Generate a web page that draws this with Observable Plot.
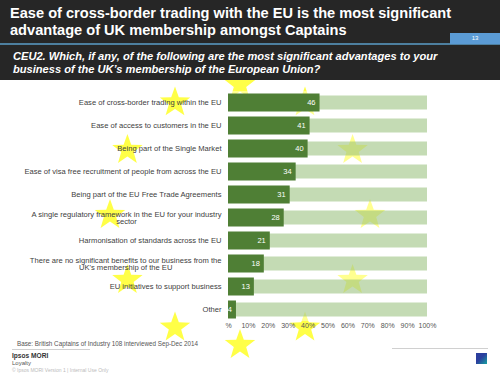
<!DOCTYPE html>
<html>
<head>
<meta charset="utf-8">
<script src="https://cdn.jsdelivr.net/npm/d3@7"></script>
<script src="https://cdn.jsdelivr.net/npm/@observablehq/plot@0.6"></script>
<style>
  html, body { margin: 0; padding: 0; background: #fff; }
  #page { position: relative; width: 500px; height: 375px; overflow: hidden; font-family: "Liberation Sans", Arial, sans-serif; background: #fff; }
  #stars { position: absolute; left: 0; top: 0; z-index: 0; }
  #header { position: absolute; left: 0; top: 0; width: 500px; height: 80px; background: #262626; z-index: 1; }
  #title { position: absolute; left: 10px; top: 5px; color: #fff; font-weight: bold; font-size: 14.6px; line-height: 17px; white-space: nowrap; }
  #rule { position: absolute; left: 0; top: 43px; width: 500px; height: 2px; background: #4d7f9f; }
  #pagebox { position: absolute; left: 450px; top: 33px; width: 50px; height: 11px; background: #5b9bd5; color: #fff; font-size: 6px; line-height: 11px; text-align: center; }
  #subtitle { position: absolute; left: 13px; top: 50px; color: #fff; font-weight: bold; font-style: italic; font-size: 11.1px; line-height: 13px; white-space: nowrap; }
  #chart { position: absolute; left: 0; top: 80px; z-index: 2; }
  .foot { position: absolute; white-space: nowrap; z-index: 3; }
</style>
</head>
<body>
<div id="page">
  <svg id="stars" width="500" height="375"></svg>
  <div id="header">
    <div id="title"></div>
    <div id="rule"></div>
    <div id="pagebox"></div>
    <div id="subtitle"></div>
  </div>
  <div id="chart"></div>
  <div class="foot" id="base" style="left:17px; top:339.5px; font-size:6.3px; color:#555;"></div>
  <div class="foot" style="left:12px; top:348.5px; width:78px; height:1px; background:#d0d0d0;"></div>
  <div class="foot" id="brand" style="left:12px; top:351.5px; font-size:6.6px; font-weight:bold; color:#333;"></div>
  <div class="foot" id="sub1" style="left:12px; top:359.5px; font-size:6px; color:#555;"></div>
  <div class="foot" id="sub2" style="left:12px; top:366.5px; font-size:5px; color:#bbb;"></div>
  <div class="foot" style="left:392px; top:348px; width:96px; height:1px; background:#d0d0d0;"></div>
  <div class="foot" style="left:476px; top:353px; width:11px; height:11px; background:linear-gradient(135deg,#2b3f9e 0%,#2b3f9e 45%,#17a3a0 100%);"></div>
</div>
<script>
// ---- Texts ----
const titleLines = ["Ease of cross-border trading with the EU is the most significant", "advantage of UK membership amongst Captains"];
const subtitleLines = ["CEU2. Which, if any, of the following are the most significant advantages to your", "business of the UK\u2019s membership of the European Union?"];
const pageNumber = "13";
const baseNote = "Base: British Captains of Industry 108 interviewed Sep-Dec 2014";
const brandName = "Ipsos MORI";
const brandSub = "Loyalty";
const brandNote = "\u00A9 Ipsos MORI   Version 1 | Internal Use Only";

// ---- Data ----
const categories = [
  "Ease of cross-border trading within the EU",
  "Ease of access to customers in the EU",
  "Being part of the Single Market",
  "Ease of visa free recruitment of people from across the EU",
  "Being part of the EU Free Trade Agreements",
  "A single regulatory framework in the EU for your industry\nsector",
  "Harmonisation of standards across the EU",
  "There are no significant benefits to our business from the\nUK's membership of the EU",
  "EU initiatives to support business",
  "Other"
];
const values = [46, 41, 40, 34, 31, 28, 21, 18, 13, 4];
const scaleMax = 100;
const tickValues = [0, 10, 20, 30, 40, 50, 60, 70, 80, 90, 100];
const tickLabels = ["%", "10%", "20%", "30%", "40%", "50%", "60%", "70%", "80%", "90%", "100%"];

// ---- Header / footer text ----
document.getElementById("title").innerHTML = titleLines.join("<br>");
document.getElementById("subtitle").innerHTML = subtitleLines.join("<br>");
document.getElementById("pagebox").textContent = pageNumber;
document.getElementById("base").textContent = baseNote;
document.getElementById("brand").textContent = brandName;
document.getElementById("sub1").textContent = brandSub;
document.getElementById("sub2").textContent = brandNote;

// ---- Decorative ring of stars (background) ----
(function () {
  const svg = d3.select("#stars");
  const cx = 240, cy = 215, R = 130, ro = 16, ri = 6.5;
  for (let k = 0; k < 12; k++) {
    const a = (k * 30 - 90) * Math.PI / 180;
    const sx = cx + R * Math.cos(a), sy = cy + R * Math.sin(a);
    const pts = [];
    for (let j = 0; j < 10; j++) {
      const r = j % 2 === 0 ? ro : ri;
      const b = (j * 36 - 90) * Math.PI / 180;
      pts.push([sx + r * Math.cos(b), sy + r * Math.sin(b)]);
    }
    svg.append("polygon").attr("points", pts.map(p => p.join(",")).join(" "))
      .attr("fill", "#ffff00").attr("fill-opacity", 0.72);
  }
})();

// ---- Chart ----
const data = categories.map((c, i) => ({category: c, value: values[i]}));
const labelOf = new Map(tickValues.map((t, i) => [t, tickLabels[i]]));

const chart = Plot.plot({
  width: 500,
  height: 255,
  marginLeft: 228,
  marginRight: 73,
  marginTop: 10.5,
  marginBottom: 14.5,
  style: {fontFamily: "'Liberation Sans', Arial, sans-serif", fontSize: "7px", color: "#404040", background: "transparent", overflow: "visible"},
  x: {domain: [0, scaleMax], label: null},
  y: {domain: categories, padding: 0, label: null},
  marks: [
    Plot.frame({fill: "white", fillOpacity: 0.4, stroke: null}),
    Plot.barX(data, {x1: 0, x2: () => scaleMax, y: "category", insetTop: 4.5, insetBottom: 4.5, fill: "#94bd77", fillOpacity: 0.55}),
    Plot.barX(data, {x: "value", y: "category", insetTop: 2.5, insetBottom: 2.5, fill: "#4f7f35"}),
    Plot.text(data, {x: "value", y: "category", text: d => String(d.value), textAnchor: "end", dx: -4.5, fill: "white", fontSize: 7.5}),
    Plot.axisX({ticks: tickValues, tickFormat: d => labelOf.get(d), tickSize: 0, tickPadding: 2, fontSize: 7, fill: "#555"}),
    Plot.axisY({tickSize: 0, tickPadding: 7, fontSize: 7.6, fill: "#404040"})
  ]
});
document.getElementById("chart").appendChild(chart);

// Center multi-line category labels on their longest line (as in the reference)
d3.select(chart).selectAll("g[aria-label='y-axis tick label'] text").each(function () {
  const tspans = Array.from(this.querySelectorAll("tspan"));
  if (tspans.length < 2) return;
  const widths = tspans.map(t => t.getComputedTextLength());
  const maxW = Math.max(...widths);
  tspans.forEach((t, i) => {
    const x0 = parseFloat(t.getAttribute("x") || 0);
    t.setAttribute("x", x0 + (widths[i] - maxW) / 2);
  });
});
</script>
</body>
</html>
